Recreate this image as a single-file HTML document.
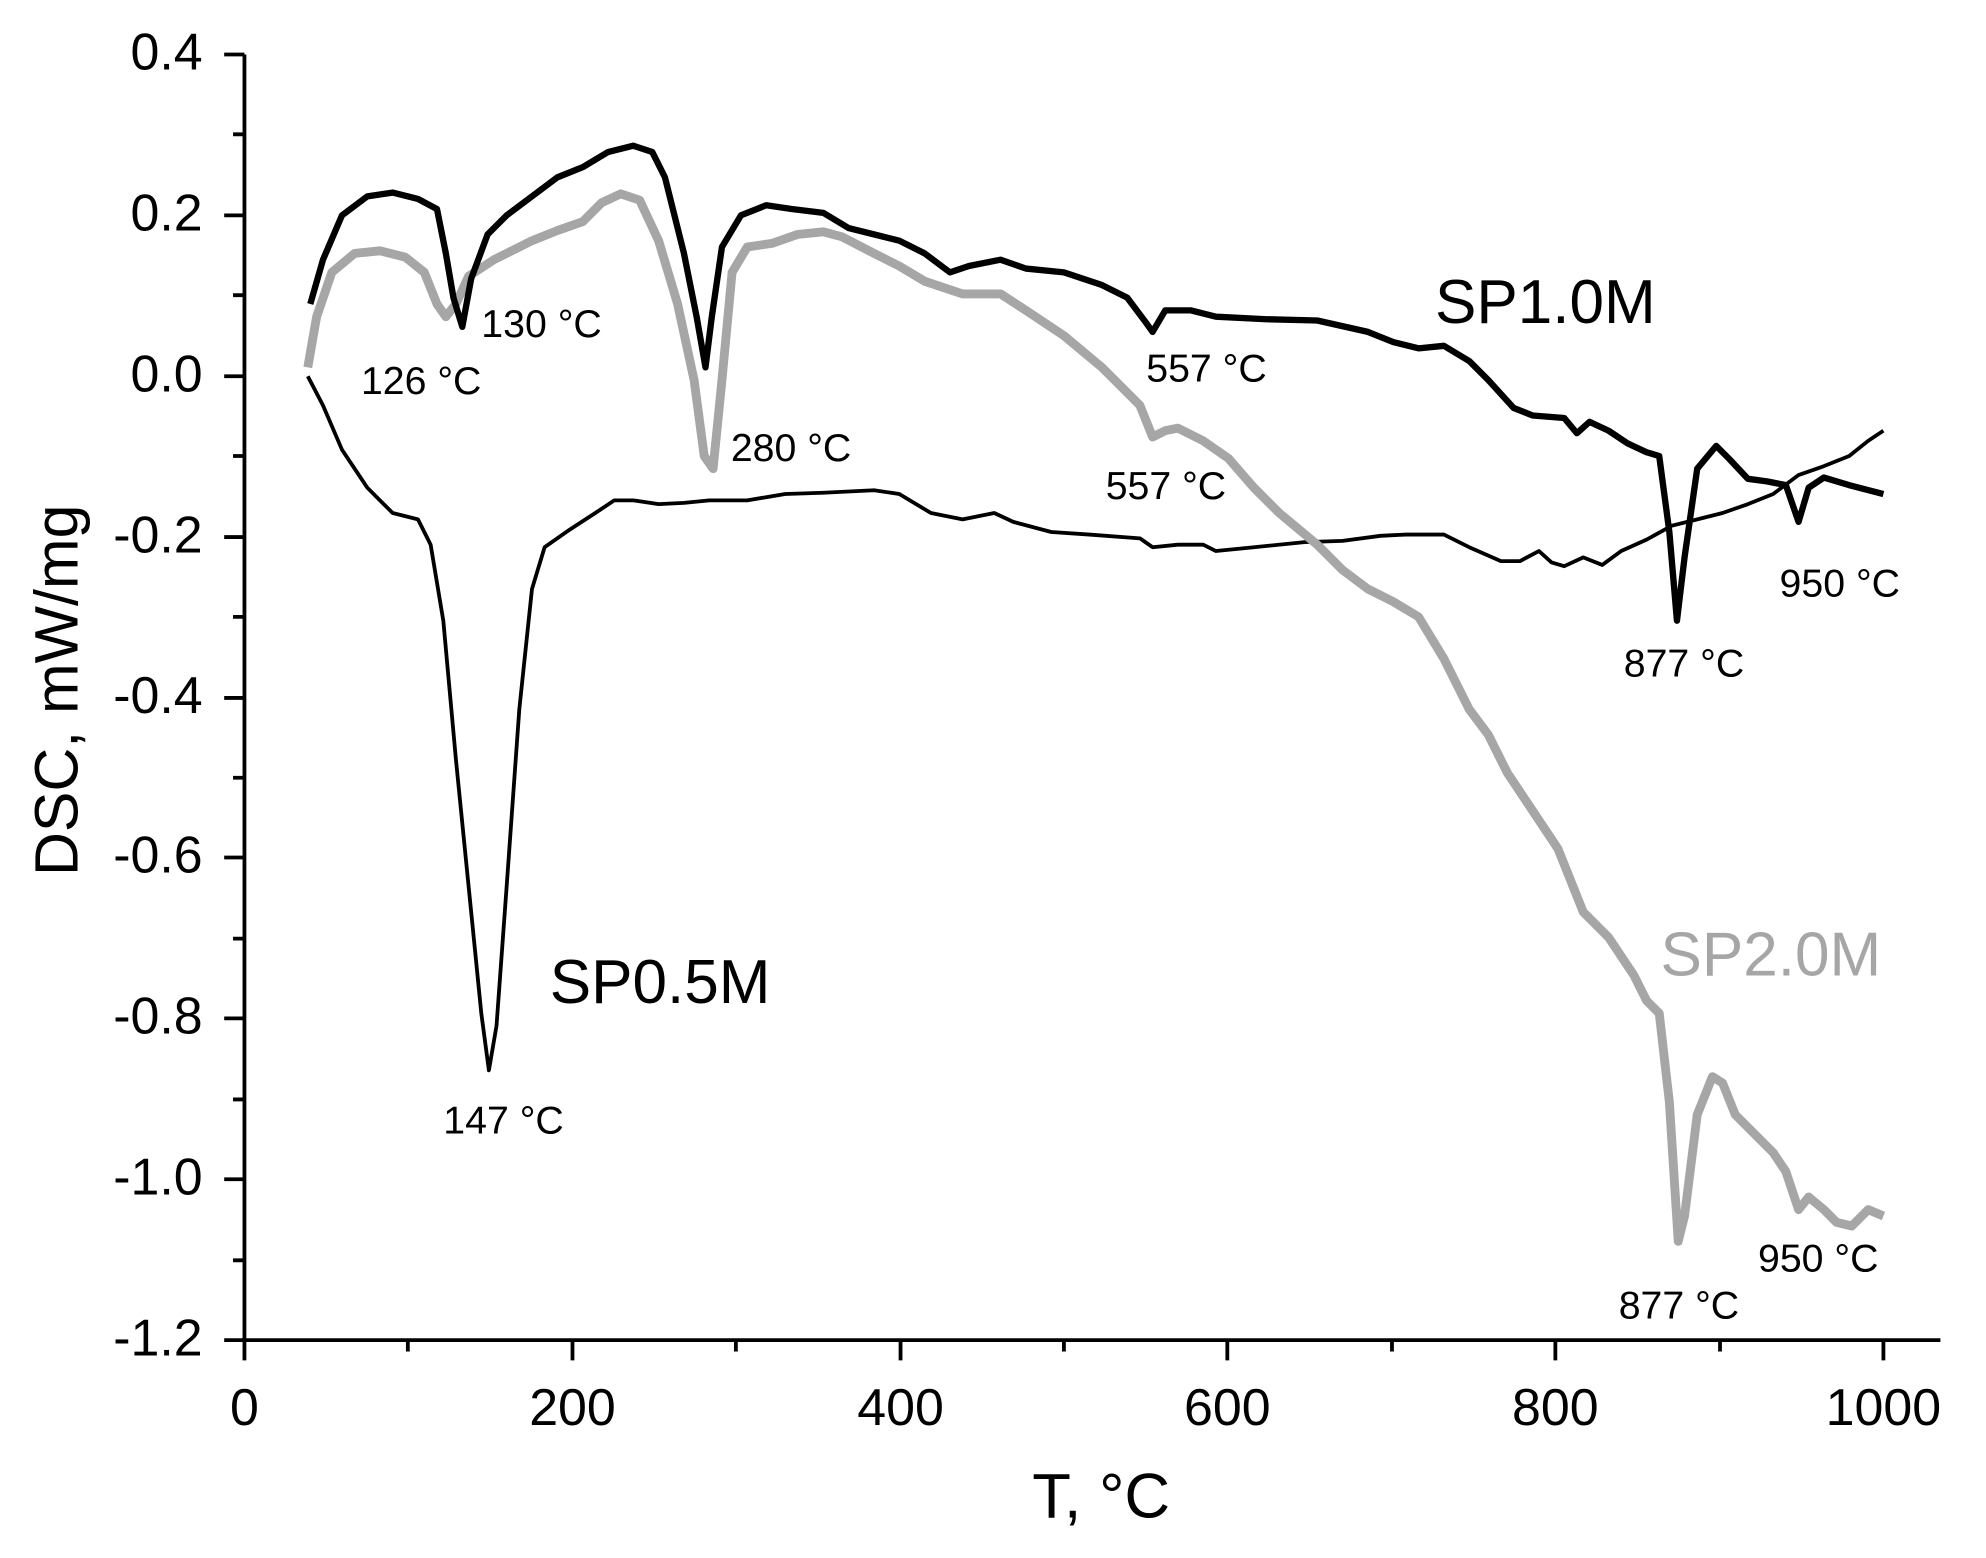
<!DOCTYPE html>
<html><head><meta charset="utf-8"><style>html,body{margin:0;padding:0;background:#fff}svg{display:block}</style></head>
<body>
<svg width="1986" height="1558" viewBox="0 0 1568 1230" xmlns="http://www.w3.org/2000/svg" font-family="Liberation Sans, sans-serif">
<rect width="1568" height="1230" fill="#fff"/>
<g stroke="#000" stroke-width="3" fill="none">
<line x1="193" y1="43" x2="193" y2="1059"/>
<line x1="191" y1="1058" x2="1532" y2="1058"/>
<path d="M193 43h-16M193 170h-16M193 297h-16M193 424h-16M193 551h-16M193 677h-16M193 804h-16M193 931h-16M193 1058h-16
M193 106h-9M193 233h-9M193 360h-9M193 487h-9M193 614h-9M193 741h-9M193 868h-9M193 995h-9
M193 1058v16M452 1058v16M711 1058v16M969 1058v16M1228 1058v16M1487 1058v16
M322 1058v9M581 1058v9M840 1058v9M1099 1058v9M1358 1058v9"/>
</g>
<g font-size="41" text-anchor="end">
<text x="160" y="55">0.4</text><text x="160" y="182">0.2</text><text x="160" y="309">0.0</text>
<text x="160" y="436">-0.2</text><text x="160" y="563">-0.4</text><text x="160" y="689">-0.6</text>
<text x="160" y="816">-0.8</text><text x="160" y="943">-1.0</text><text x="160" y="1070">-1.2</text>
</g>
<g font-size="41" text-anchor="middle">
<text x="193" y="1125">0</text><text x="452" y="1125">200</text><text x="711" y="1125">400</text>
<text x="969" y="1125">600</text><text x="1228" y="1125">800</text><text x="1487" y="1125">1000</text>
</g>
<text x="815" y="1198" font-size="50">T, °C</text>
<text transform="translate(61,545) rotate(-90)" font-size="48" text-anchor="middle">DSC, mW/mg</text>

<polyline fill="none" stroke="#000" stroke-width="3" stroke-linejoin="round" points="243,297 255,320 270,355 290,385 310,405 330,410 340,430 350,490 360,600 372,720 380,800 386,845 392,810 400,700 410,560 420,465 430,432 450,418 470,405 485,395 500,395 520,398 540,397 560,395 590,395 620,390 650,389 690,387 710,390 735,405 760,410 785,405 800,412 830,420 860,422 900,425 910,432 930,430 950,430 960,435 990,432 1030,428 1060,427 1090,423 1110,422 1140,422 1160,432 1185,443 1200,443 1215,435 1225,444 1235,447 1250,440 1265,446 1280,435 1300,426 1320,415 1340,410 1360,405 1380,398 1400,390 1420,375 1440,368 1460,360 1475,348 1487,340"/>
<polyline fill="none" stroke="#a6a6a6" stroke-width="7" stroke-linejoin="round" points="243,290 250,250 262,215 280,200 300,198 320,203 335,215 345,240 352,250 360,240 370,218 390,205 420,190 440,182 460,175 475,160 490,153 505,158 520,190 535,240 548,300 556,360 563,370 570,300 578,215 590,195 610,192 630,185 650,183 665,187 690,200 710,210 730,222 760,232 790,232 810,245 840,265 870,290 900,320 910,345 920,340 930,338 950,348 970,362 990,385 1010,405 1040,430 1060,450 1080,465 1100,475 1120,487 1140,520 1160,560 1175,580 1190,610 1210,640 1230,670 1250,720 1270,740 1290,770 1300,790 1310,800 1318,870 1325,980 1330,960 1340,880 1352,850 1360,855 1370,880 1385,895 1400,910 1410,925 1420,955 1428,945 1440,955 1450,965 1462,968 1475,955 1487,960"/>
<polyline fill="none" stroke="#000" stroke-width="5" stroke-linejoin="round" points="245,240 255,205 270,170 290,155 310,152 330,157 345,165 352,200 358,235 365,258 372,220 385,185 400,170 420,155 440,140 460,132 480,120 500,115 515,120 525,140 540,200 550,250 557,290 562,250 570,195 585,170 605,162 625,165 650,168 670,180 690,185 710,190 730,200 750,215 765,210 790,205 810,212 840,215 870,225 890,235 905,255 910,262 920,245 940,245 960,250 1000,252 1040,253 1080,262 1100,270 1120,275 1140,273 1160,285 1175,300 1195,322 1210,328 1235,330 1245,342 1255,333 1270,340 1285,350 1300,357 1310,360 1318,420 1324,490 1330,440 1340,370 1355,352 1365,362 1380,378 1395,380 1410,383 1420,412 1428,385 1440,377 1460,383 1487,390"/>

<text x="1133" y="255" font-size="49">SP1.0M</text>
<text x="434" y="792" font-size="49">SP0.5M</text>
<text x="1311" y="770" font-size="49" fill="#a6a6a6">SP2.0M</text>
<g font-size="31">
<text x="380" y="266">130 °C</text>
<text x="285" y="311">126 °C</text>
<text x="577" y="364">280 °C</text>
<text x="905" y="301">557 °C</text>
<text x="873" y="394">557 °C</text>
<text x="1282" y="534">877 °C</text>
<text x="1405" y="471">950 °C</text>
<text x="350" y="895">147 °C</text>
<text x="1278" y="1041">877 °C</text>
<text x="1388" y="1004">950 °C</text>
</g>
</svg>
</body></html>
